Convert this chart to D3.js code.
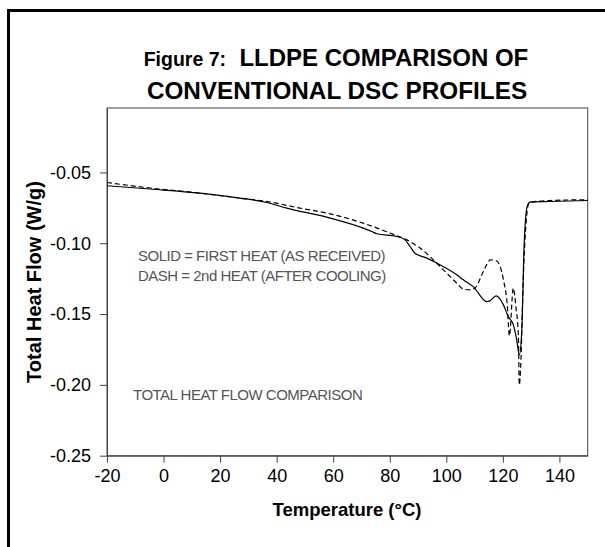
<!DOCTYPE html>
<html>
<head>
<meta charset="utf-8">
<script src="https://cdn.jsdelivr.net/npm/d3@7"></script>
<style>
  body { margin: 0; background: #fff; }
  text { font-family: "Liberation Sans", Arial, sans-serif; }
</style>
</head>
<body>
<svg id="chart" width="605" height="547"></svg>
<script>
// first heat (solid)
const solidT = [-20, -4.8, 12.9, 27.0, 36.5, 43.6, 58.9, 70.6, 73.6, 75.4, 82.5, 85.4, 87.2, 88.9, 93.1, 96.6,
  103.7, 106.0, 109.5, 114.3, 115.5, 117.6, 120.2, 121.9, 123.7, 124.9, 125.8, 126.7, 127.5, 128.6, 129.6, 136.7, 150];
const solidV = [-0.0594, -0.0617, -0.0646, -0.0681, -0.0712, -0.0752, -0.0822, -0.0893, -0.0917, -0.0933, -0.0952,
  -0.0976, -0.1023, -0.1070, -0.1105, -0.1140, -0.1223, -0.1258, -0.1306, -0.1412, -0.1405, -0.1372, -0.1435,
  -0.1518, -0.1576, -0.1682, -0.1788, -0.1612, -0.1023, -0.0740, -0.0709, -0.0705, -0.0698];

// second heat (dash)
const dashT = [-20, -4.8, 12.9, 27.0, 36.5, 48.3, 58.9, 70.6, 80.1, 86.0, 90.7, 97.8, 103.7, 106.0, 108.4, 110.1,
  113.1, 115.6, 117.8, 120.2, 121.6, 122.3, 123.7, 124.6, 125.5, 125.8, 126.3, 127.2, 128.4, 129.3, 136.7, 150];
const dashV = [-0.0571, -0.0610, -0.0646, -0.0681, -0.0705, -0.0752, -0.0792, -0.0858, -0.0928, -0.0976, -0.1034,
  -0.1164, -0.1282, -0.1324, -0.1329, -0.1317, -0.1200, -0.1117, -0.1125, -0.1258, -0.1447, -0.1654, -0.1317,
  -0.1447, -0.1659, -0.2000, -0.1871, -0.1258, -0.0811, -0.0712, -0.0698, -0.0693];

const xTicks = [-20, 0, 20, 40, 60, 80, 100, 120, 140];
const xTickLabels = ['-20', '0', '20', '40', '60', '80', '100', '120', '140'];
const yTicks = [-0.25, -0.20, -0.15, -0.10, -0.05];
const yTickLabels = ['-0.25', '-0.20', '-0.15', '-0.10', '-0.05'];

const notes = ['SOLID = FIRST HEAT (AS RECEIVED)', 'DASH = 2nd HEAT (AFTER COOLING)'];
const note2 = 'TOTAL HEAT FLOW COMPARISON';

const svg = d3.select('#chart');
const plotL = 107, plotR = 587.7, plotT = 108, plotB = 455.7;

// outer frame, open on right/bottom
svg.append('rect')
  .attr('x', 8.5).attr('y', 10.5)
  .attr('width', 700).attr('height', 700)
  .attr('fill', 'none').attr('stroke', '#000').attr('stroke-width', 3);

// title
const title = svg.append('text')
  .attr('x', 336).attr('y', 66)
  .attr('text-anchor', 'middle')
  .attr('font-weight', 'bold')
  .attr('font-size', 24);
title.append('tspan').attr('font-size', 19.5).text('Figure 7:');
title.append('tspan').text('\u00a0 LLDPE COMPARISON OF');
svg.append('text')
  .attr('x', 337).attr('y', 99)
  .attr('text-anchor', 'middle')
  .attr('font-weight', 'bold')
  .attr('font-size', 24.3)
  .text('CONVENTIONAL DSC PROFILES');

const x = d3.scaleLinear().domain([-20, 150]).range([plotL, plotR]);
const y = d3.scaleLinear().domain([-0.25, -0.0045]).range([plotB, plotT]);

// plot frame
svg.append('rect')
  .attr('x', plotL).attr('y', plotT)
  .attr('width', plotR - plotL).attr('height', plotB - plotT)
  .attr('fill', 'none').attr('stroke', '#444').attr('stroke-width', 1);

const xAxis = d3.axisBottom(x)
  .tickValues(xTicks)
  .tickFormat((d, i) => xTickLabels[i])
  .tickSize(7).tickSizeOuter(0).tickPadding(7);
const yAxis = d3.axisLeft(y)
  .tickValues(yTicks)
  .tickFormat((d, i) => yTickLabels[i])
  .tickSize(7).tickSizeOuter(0).tickPadding(9);

const gx = svg.append('g').attr('transform', `translate(0,${plotB})`).call(xAxis);
const gy = svg.append('g').attr('transform', `translate(${plotL},0)`).call(yAxis);
[gx, gy].forEach(g => {
  g.select('.domain').attr('stroke', '#444');
  g.selectAll('.tick line').attr('stroke', '#444');
  g.selectAll('.tick text')
    .attr('fill', '#000')
    .style('font-family', '"Liberation Sans", Arial, sans-serif')
    .style('font-size', '18px');
});

// axis titles
svg.append('text')
  .attr('x', 347).attr('y', 516)
  .attr('text-anchor', 'middle')
  .attr('font-weight', 'bold')
  .attr('font-size', 18.5)
  .text('Temperature (°C)');
svg.append('text')
  .attr('transform', 'rotate(-90)')
  .attr('x', -282).attr('y', 41)
  .attr('text-anchor', 'middle')
  .attr('font-weight', 'bold')
  .attr('font-size', 20)
  .text('Total Heat Flow (W/g)');

// notes
svg.selectAll('.note').data(notes).enter().append('text')
  .attr('class', 'note')
  .attr('x', 138).attr('y', (d, i) => 260.5 + i * 20.5)
  .attr('fill', '#555')
  .attr('font-size', 15)
  .attr('letter-spacing', -0.5)
  .text(d => d);
svg.append('text')
  .attr('x', 133).attr('y', 400)
  .attr('fill', '#555')
  .attr('font-size', 15)
  .attr('letter-spacing', -0.5)
  .text(note2);

const line = d3.line()
  .x(d => x(d[0]))
  .y(d => y(d[1]))
  .curve(d3.curveMonotoneX);

svg.append('path')
  .datum(solidT.map((t, i) => [t, solidV[i]]))
  .attr('d', line)
  .attr('fill', 'none').attr('stroke', '#000').attr('stroke-width', 1.2);

svg.append('path')
  .datum(dashT.map((t, i) => [t, dashV[i]]))
  .attr('d', line)
  .attr('fill', 'none').attr('stroke', '#000').attr('stroke-width', 1.2)
  .attr('stroke-dasharray', '5,3');
</script>
</body>
</html>
